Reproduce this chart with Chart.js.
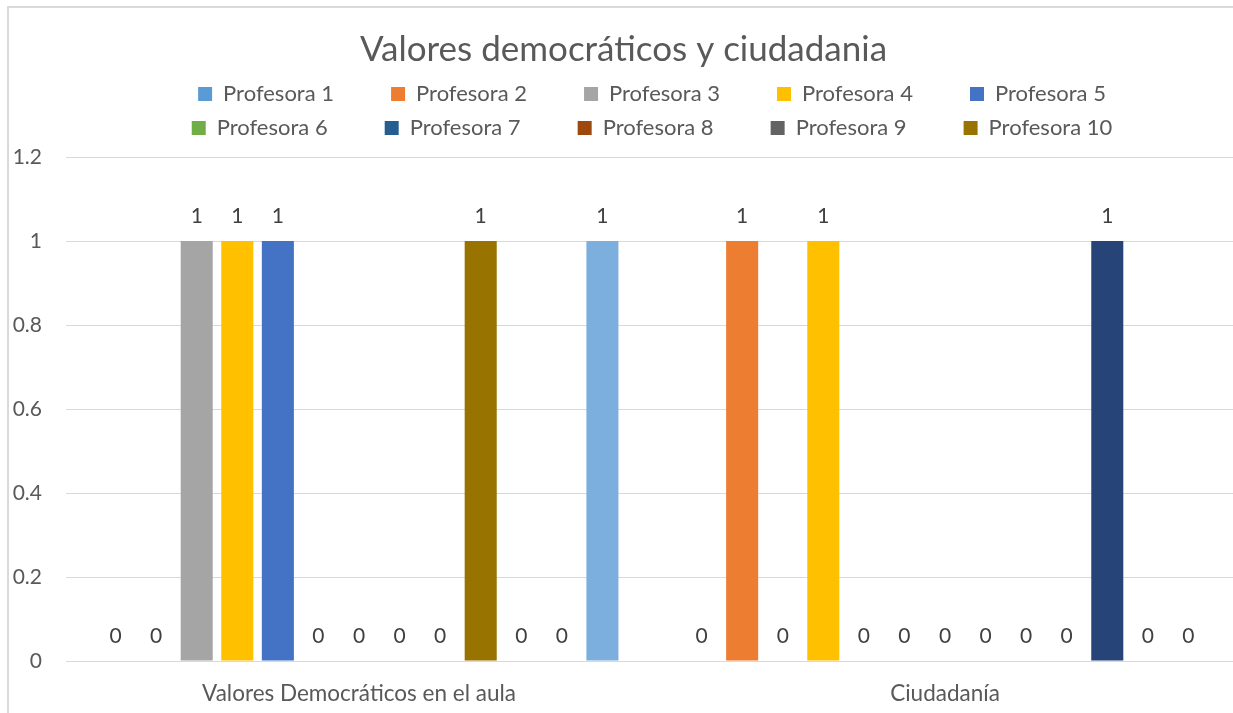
<!DOCTYPE html>
<html>
<head>
<meta charset="utf-8">
<title>Valores democráticos y ciudadania</title>
<script src="https://cdn.jsdelivr.net/npm/chart.js@4.4.0/dist/chart.umd.min.js"></script>
<style>
  html, body { margin: 0; padding: 0; background: #ffffff; overflow: hidden; }
  #frame { position: absolute; left: 7px; top: 6px; width: 1300px; height: 800px;
           border-top: 2px solid #d9d9d9; border-left: 2px solid #d9d9d9; }
  #wrap { position: absolute; left: 9px; top: 8px; }
</style>
</head>
<body>
<div id="frame"></div>
<div id="wrap"><canvas id="chart" width="1240" height="705"></canvas></div>
<script>
const categories = ['Valores Democráticos en el aula', 'Ciudadanía'];
const teachers = ['Profesora 1', 'Profesora 2', 'Profesora 3', 'Profesora 4', 'Profesora 5',
  'Profesora 6', 'Profesora 7', 'Profesora 8', 'Profesora 9', 'Profesora 10',
  'Profesora 11', 'Profesora 12', 'Profesora 13'];
// one value per teacher, for each category
const valoresAula = [0, 0, 1, 1, 1, 0, 0, 0, 0, 1, 0, 0, 1];
const ciudadania = [0, 1, 0, 1, 0, 0, 0, 0, 0, 0, 1, 0, 0];
const yTicks = [0, 0.2, 0.4, 0.6, 0.8, 1, 1.2];

const colors = ['#5B9BD5', '#ED7D31', '#A5A5A5', '#FFC000', '#4472C4', '#70AD47',
  '#255E91', '#9E480E', '#636363', '#997300', '#264478', '#43682B', '#7CAFDD'];
const textColor = '#595959';
const legendShown = 10;
const legendItemText = 159; // padded text width so columns line up like Excel

Chart.defaults.font.family = 'Lato';

// extra room under the legend and 5 items per row
const legendSpacing = {
  id: 'legendSpacing',
  afterInit(chart) {
    const fit = chart.legend.fit;
    chart.legend.fit = function () {
      this.maxWidth = Math.min(this.maxWidth, 1100);
      fit.call(this);
      this.height += 8;
    };
  }
};

const barValueLabels = {
  id: 'barValueLabels',
  afterDatasetsDraw(chart) {
    const ctx = chart.ctx;
    ctx.save();
    ctx.font = '21px Lato';
    ctx.fillStyle = '#404040';
    ctx.textAlign = 'center';
    ctx.textBaseline = 'middle';
    chart.data.datasets.forEach((ds, i) => {
      chart.getDatasetMeta(i).data.forEach((bar, j) => {
        ctx.fillText(String(ds.data[j]), bar.x, bar.y - 25);
      });
    });
    ctx.restore();
  }
};

const datasets = teachers.map((name, i) => ({
  label: name,
  data: [valoresAula[i], ciudadania[i]],
  backgroundColor: colors[i],
  borderWidth: 0,
  categoryPercentage: 0.9,
  barPercentage: 0.79
}));

new Chart(document.getElementById('chart'), {
  type: 'bar',
  data: { labels: categories, datasets: datasets },
  plugins: [legendSpacing, barValueLabels],
  options: {
    responsive: false,
    animation: false,
    layout: { padding: { left: 0, right: 11, top: 0, bottom: 0 } },
    plugins: {
      title: {
        display: true,
        text: 'Valores democráticos y ciudadania',
        color: textColor,
        font: { size: 35, weight: 'normal' },
        padding: { top: 21, bottom: 0 }
      },
      legend: {
        display: true,
        position: 'top',
        fullSize: false,
        labels: {
          color: textColor,
          font: { size: 22 },
          boxWidth: 14,
          boxHeight: 14,
          padding: 12,
          generateLabels(chart) {
            const items = Chart.defaults.plugins.legend.labels.generateLabels(chart)
              .filter(item => item.datasetIndex < legendShown);
            const ctx = chart.ctx;
            ctx.save();
            ctx.font = '22px Lato';
            items.forEach((item, i) => {
              if (i % 5 === 4) return;
              let t = item.text;
              while (ctx.measureText(t + ' ').width <= legendItemText) t += ' ';
              item.text = t;
            });
            ctx.restore();
            return items;
          }
        }
      },
      tooltip: { enabled: false }
    },
    scales: {
      x: {
        grid: { display: false },
        border: { display: false },
        ticks: { color: textColor, font: { size: 22.5 }, padding: 11 },
        afterFit(scale) { scale.height = 52; }
      },
      y: {
        min: 0,
        max: 1.2,
        afterBuildTicks(scale) { scale.ticks = yTicks.map(v => ({ value: v })); },
        grid: { color: '#D9D9D9', lineWidth: 1, drawTicks: false },
        border: { display: false },
        ticks: {
          color: textColor,
          font: { size: 21 },
          padding: 24,
          callback: value => String(Number(value.toFixed(1)))
        },
        afterFit(scale) { scale.width = 57; }
      }
    }
  }
});
</script>
</body>
</html>
